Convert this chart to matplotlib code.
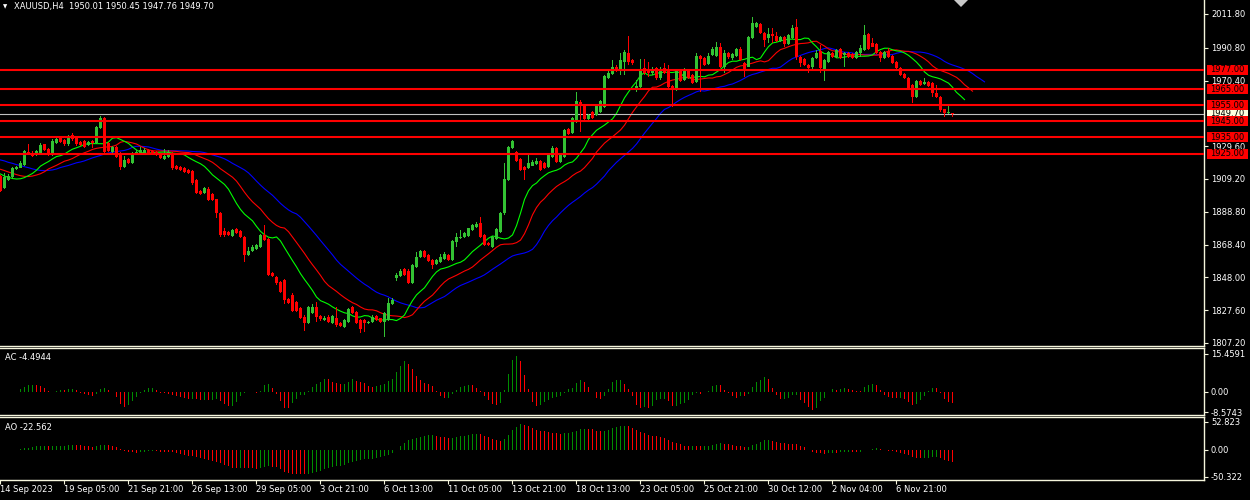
import numpy as np
import pandas as pd
import matplotlib
matplotlib.use("Agg")
import matplotlib.pyplot as plt
from matplotlib.colors import to_rgba_array
from matplotlib.patches import Rectangle, Polygon
from matplotlib.transforms import blended_transform_factory

# XAUUSD H4 candles (open, high, low, close)
opens = [
    1911.0, 1903.4, 1908.6, 1910.2, 1915.4, 1916.2, 1917.9, 1926.2, 1925.5, 1924.1,
    1925.5, 1930.7, 1927.6, 1924.1, 1931.8, 1934.5, 1933.4, 1930.7, 1936.5, 1935.5,
    1932.4, 1933.0, 1930.3, 1933.0, 1931.4, 1940.7, 1946.9, 1931.8, 1926.2, 1929.3,
    1925.1, 1916.8, 1921.4, 1919.3, 1924.7, 1925.5, 1925.1, 1927.2, 1926.8, 1926.2,
    1924.5, 1921.4, 1923.1, 1925.5, 1917.3, 1916.4, 1915.8, 1914.8, 1914.4, 1908.5,
    1901.9, 1900.3, 1903.2, 1899.8, 1896.5, 1888.2, 1877.0, 1876.4, 1873.9, 1877.9,
    1877.0, 1873.3, 1861.9, 1864.6, 1865.4, 1867.1, 1874.3, 1871.6, 1850.9, 1848.0,
    1845.3, 1846.4, 1834.5, 1837.0, 1832.9, 1828.7, 1823.6, 1819.4, 1826.0, 1829.4,
    1824.0, 1821.5, 1823.6, 1819.8, 1822.5, 1819.4, 1817.3, 1820.4, 1829.4, 1826.7,
    1821.5, 1821.5, 1819.4, 1820.4, 1824.0, 1822.5, 1820.4, 1821.5, 1831.4, 1847.4,
    1848.8, 1853.0, 1852.2, 1844.7, 1854.6, 1860.9, 1864.6, 1861.9, 1858.8, 1856.3,
    1857.8, 1859.2, 1861.9, 1858.8, 1870.2, 1872.3, 1872.9, 1873.7, 1877.5, 1879.5,
    1881.6, 1874.3, 1869.6, 1867.1, 1871.7, 1876.4, 1887.8, 1908.6, 1928.3, 1926.2,
    1921.4, 1916.8, 1915.8, 1917.5, 1918.5, 1920.6, 1918.9, 1916.8, 1923.1, 1928.3,
    1920.0, 1923.1, 1940.1, 1937.6, 1944.8, 1957.3, 1954.6, 1946.5, 1951.1, 1949.0,
    1951.0, 1954.2, 1972.0, 1974.5, 1979.1, 1977.0, 1982.2, 1987.8, 1983.2, 1965.0,
    1966.6, 1978.0, 1977.4, 1974.9, 1978.0, 1971.8, 1978.0, 1976.6, 1967.0, 1965.0,
    1976.6, 1970.8, 1976.6, 1973.9, 1969.7, 1985.7, 1984.2, 1980.7, 1986.3, 1985.7,
    1991.5, 1979.1, 1987.8, 1984.2, 1985.7, 1989.8, 1981.5, 1979.1, 1996.7, 2003.5,
    2005.6, 2000.2, 1996.7, 1999.4, 1998.1, 1995.2, 1997.3, 1993.2, 1996.7, 2003.5,
    1984.9, 1983.6, 1980.1, 1979.1, 1984.2, 1989.0, 1977.4, 1982.2, 1987.3, 1985.3,
    1989.8, 1986.3, 1987.3, 1986.9, 1984.2, 1987.3, 1989.4, 1999.4, 1994.0, 1993.2,
    1988.4, 1984.2, 1989.0, 1985.7, 1982.2, 1978.0, 1974.5, 1971.8, 1967.7, 1960.4,
    1970.4, 1968.3, 1969.7, 1969.1, 1962.9, 1960.4, 1952.5, 1950.1, 1950.01,
]
highs = [
    1911.7, 1913.1, 1912.0, 1916.5, 1917.5, 1920.3, 1927.5, 1930.7, 1926.5, 1927.5,
    1931.5, 1931.2, 1928.5, 1934.0, 1934.5, 1935.1, 1934.0, 1936.5, 1937.6, 1936.0,
    1933.0, 1933.6, 1932.6, 1933.4, 1942.2, 1948.3, 1947.5, 1932.4, 1930.0, 1930.0,
    1925.8, 1923.5, 1922.0, 1925.8, 1927.0, 1928.9, 1928.2, 1927.8, 1927.4, 1926.8,
    1925.0, 1927.6, 1927.0, 1926.2, 1918.0, 1917.0, 1916.5, 1915.4, 1915.0, 1909.0,
    1902.5, 1904.0, 1904.0, 1900.5, 1897.0, 1888.8, 1878.9, 1877.0, 1878.0, 1878.5,
    1877.5, 1874.0, 1867.1, 1868.0, 1869.0, 1875.0, 1880.6, 1872.3, 1851.5, 1849.0,
    1846.0, 1847.0, 1835.0, 1838.0, 1833.5, 1829.5, 1824.3, 1830.0, 1831.2, 1832.9,
    1824.8, 1824.0, 1824.5, 1824.6, 1829.8, 1820.0, 1822.2, 1828.8, 1830.0, 1827.3,
    1822.2, 1822.2, 1821.0, 1824.3, 1824.6, 1823.0, 1826.5, 1835.0, 1835.0, 1850.5,
    1853.0, 1853.6, 1853.0, 1856.3, 1864.0, 1865.2, 1865.2, 1862.5, 1859.4, 1859.5,
    1862.5, 1863.6, 1862.5, 1871.5, 1875.8, 1877.5, 1876.0, 1879.0, 1881.2, 1882.6,
    1885.7, 1875.0, 1870.2, 1873.5, 1878.5, 1888.4, 1919.3, 1930.0, 1933.6, 1926.8,
    1922.0, 1917.5, 1924.7, 1921.0, 1922.0, 1921.2, 1919.5, 1924.7, 1929.5, 1929.3,
    1925.3, 1940.3, 1940.7, 1947.5, 1963.5, 1958.0, 1955.2, 1949.6, 1951.7, 1956.0,
    1958.3, 1974.0, 1977.4, 1983.2, 1980.0, 1987.3, 1989.4, 1998.1, 1984.0, 1970.8,
    1983.6, 1983.6, 1982.2, 1979.1, 1979.0, 1979.1, 1981.1, 1980.1, 1967.5, 1977.5,
    1977.3, 1978.0, 1977.2, 1974.5, 1987.3, 1986.5, 1985.0, 1987.8, 1991.5, 1994.6,
    1993.6, 1989.4, 1988.4, 1987.8, 1990.5, 1991.1, 1982.0, 1998.0, 2010.2, 2007.0,
    2006.2, 2000.8, 2002.9, 2002.9, 2000.8, 1998.3, 1997.9, 1999.4, 2005.0, 2008.5,
    1985.5, 1984.2, 1980.7, 1985.0, 1989.4, 1992.5, 1984.0, 1989.0, 1988.0, 1990.0,
    1990.4, 1988.0, 1988.0, 1987.5, 1989.0, 1992.5, 2005.0, 2000.2, 1996.7, 1993.8,
    1989.0, 1989.0, 1990.5, 1986.3, 1982.8, 1978.6, 1975.0, 1972.4, 1968.3, 1971.0,
    1970.8, 1971.8, 1970.3, 1969.7, 1967.7, 1961.0, 1953.0, 1955.2, 1950.45,
]
lows = [
    1901.3, 1902.7, 1908.0, 1909.5, 1915.0, 1915.8, 1917.5, 1924.1, 1922.8, 1923.5,
    1925.0, 1926.8, 1923.2, 1923.5, 1931.0, 1931.8, 1930.0, 1930.0, 1933.0, 1930.0,
    1929.8, 1928.5, 1929.8, 1928.2, 1930.8, 1940.0, 1925.1, 1926.0, 1925.5, 1922.5,
    1914.8, 1915.8, 1918.6, 1918.8, 1924.0, 1925.0, 1924.5, 1925.0, 1925.0, 1923.5,
    1921.4, 1920.9, 1922.5, 1915.0, 1914.5, 1914.0, 1913.0, 1912.4, 1905.4, 1900.0,
    1899.0, 1899.6, 1895.5, 1895.5, 1884.7, 1872.9, 1873.3, 1873.7, 1873.3, 1875.2,
    1872.3, 1857.8, 1861.3, 1864.0, 1864.8, 1866.5, 1870.6, 1849.0, 1848.0, 1843.5,
    1838.5, 1831.4, 1831.5, 1826.5, 1826.5, 1821.8, 1814.8, 1818.8, 1825.5, 1820.4,
    1821.0, 1820.9, 1819.8, 1819.0, 1817.3, 1817.0, 1816.8, 1819.8, 1825.0, 1819.0,
    1813.2, 1814.2, 1818.8, 1819.8, 1820.9, 1819.8, 1810.7, 1820.9, 1830.8, 1846.0,
    1848.0, 1849.0, 1844.0, 1844.0, 1854.0, 1860.3, 1860.0, 1857.8, 1853.0, 1855.7,
    1857.0, 1858.6, 1858.2, 1858.2, 1867.1, 1871.6, 1872.3, 1873.0, 1877.0, 1878.9,
    1872.7, 1867.5, 1867.5, 1866.5, 1871.0, 1875.8, 1887.0, 1908.0, 1927.7, 1919.8,
    1914.0, 1908.6, 1915.2, 1917.0, 1918.0, 1914.2, 1915.2, 1916.2, 1922.5, 1919.3,
    1919.4, 1922.5, 1936.6, 1937.0, 1944.2, 1938.6, 1945.9, 1945.9, 1946.3, 1948.4,
    1950.4, 1953.5, 1971.5, 1974.0, 1976.0, 1973.9, 1973.9, 1980.1, 1980.0, 1963.5,
    1965.6, 1973.9, 1972.8, 1973.9, 1971.0, 1971.0, 1974.3, 1965.6, 1954.2, 1964.0,
    1969.8, 1970.0, 1971.4, 1968.5, 1969.0, 1963.5, 1979.5, 1980.0, 1985.7, 1985.0,
    1978.0, 1974.9, 1984.0, 1983.2, 1985.0, 1982.5, 1972.8, 1978.6, 1996.0, 2003.0,
    1999.6, 1991.5, 1993.6, 1993.6, 1994.6, 1994.6, 1991.5, 1992.6, 1996.0, 1983.2,
    1979.1, 1979.5, 1974.9, 1977.0, 1983.6, 1974.9, 1970.4, 1981.5, 1984.7, 1984.7,
    1983.6, 1979.1, 1984.7, 1983.6, 1983.6, 1985.3, 1988.8, 1989.2, 1991.0, 1986.7,
    1982.2, 1983.6, 1984.7, 1980.5, 1977.4, 1973.3, 1971.2, 1964.4, 1956.3, 1959.8,
    1967.1, 1967.7, 1966.4, 1960.0, 1959.8, 1951.1, 1947.5, 1949.5, 1947.76,
]
closes = [
    1901.9, 1910.2, 1911.0, 1915.8, 1916.8, 1918.9, 1926.8, 1925.1, 1923.5, 1926.8,
    1930.3, 1927.2, 1924.1, 1933.0, 1933.8, 1932.4, 1930.7, 1935.9, 1933.8, 1930.7,
    1930.3, 1929.3, 1932.0, 1931.4, 1941.7, 1946.9, 1926.2, 1926.8, 1929.3, 1923.1,
    1916.8, 1921.0, 1919.3, 1925.1, 1926.2, 1927.2, 1927.2, 1925.5, 1925.5, 1924.1,
    1922.0, 1923.5, 1926.2, 1915.8, 1915.2, 1914.8, 1913.7, 1913.1, 1906.9, 1900.7,
    1899.8, 1903.4, 1896.1, 1896.1, 1887.8, 1874.3, 1874.3, 1874.3, 1877.4, 1875.8,
    1872.9, 1861.9, 1864.6, 1867.1, 1868.1, 1874.3, 1871.2, 1849.5, 1848.8, 1844.3,
    1839.1, 1833.9, 1832.3, 1827.3, 1827.3, 1822.5, 1819.8, 1829.4, 1829.4, 1823.6,
    1821.9, 1822.9, 1820.4, 1824.0, 1818.4, 1817.7, 1821.5, 1828.1, 1825.6, 1819.8,
    1815.7, 1819.8, 1820.4, 1823.6, 1821.5, 1820.4, 1825.6, 1831.9, 1833.9, 1849.5,
    1852.2, 1849.5, 1844.7, 1855.7, 1860.9, 1864.6, 1860.5, 1858.4, 1855.7, 1858.8,
    1860.9, 1862.5, 1858.8, 1870.8, 1872.9, 1872.9, 1875.4, 1878.5, 1880.6, 1881.2,
    1873.3, 1868.1, 1868.1, 1872.9, 1877.9, 1887.8, 1909.0, 1929.3, 1933.0, 1920.4,
    1914.8, 1914.8, 1918.9, 1920.0, 1920.6, 1914.8, 1915.8, 1924.1, 1928.3, 1920.0,
    1924.7, 1939.7, 1937.2, 1946.9, 1957.9, 1954.6, 1946.5, 1949.0, 1946.9, 1955.2,
    1957.5, 1973.2, 1974.9, 1979.1, 1976.6, 1983.2, 1988.4, 1982.2, 1981.5, 1967.0,
    1977.0, 1974.9, 1975.3, 1977.4, 1971.8, 1977.4, 1974.9, 1966.2, 1965.0, 1976.6,
    1970.4, 1977.0, 1972.0, 1969.1, 1985.7, 1983.6, 1980.1, 1985.7, 1989.8, 1991.1,
    1979.1, 1987.8, 1984.9, 1986.9, 1989.8, 1983.0, 1977.0, 1997.7, 2006.4, 2006.4,
    2000.2, 1995.6, 1999.4, 1998.1, 1995.2, 1997.7, 1993.2, 1998.8, 2002.9, 1984.9,
    1981.5, 1980.1, 1978.0, 1984.2, 1987.3, 1978.0, 1983.2, 1988.4, 1985.3, 1989.4,
    1984.2, 1987.3, 1985.3, 1984.2, 1988.4, 1990.5, 1998.8, 1989.8, 1991.5, 1987.3,
    1984.2, 1988.4, 1985.3, 1981.1, 1978.0, 1973.9, 1971.8, 1965.0, 1960.4, 1970.4,
    1967.7, 1969.7, 1967.0, 1962.5, 1960.4, 1952.1, 1950.1, 1951.1, 1949.70,
]

# Alligator values visible at the left edge, before the computed part starts
jaw_head = [1921.0, 1920.4, 1919.5, 1918.9, 1918.1, 1917.5, 1916.8, 1916.2]
teeth_head = [1915.2, 1914.4, 1913.5, 1912.7, 1911.9]
lips_head = [1912.3, 1911.0, 1910.2]

level_lines = [1977.0, 1965.0, 1955.0, 1945.0, 1935.0, 1925.0]
bid_price = 1949.70
price_ticks = [2011.80, 1990.80, 1970.40, 1929.60, 1909.20, 1888.80,
               1868.40, 1848.00, 1827.60, 1807.20]
date_labels = ["14 Sep 2023", "19 Sep 05:00", "21 Sep 21:00", "26 Sep 13:00",
               "29 Sep 05:00", "3 Oct 21:00", "6 Oct 13:00", "11 Oct 05:00",
               "13 Oct 21:00", "18 Oct 13:00", "23 Oct 05:00", "25 Oct 21:00",
               "30 Oct 12:00", "2 Nov 04:00", "6 Nov 21:00"]
ac_ticks = [15.4591, 0.0, -8.5743]
ac_tick_labels = ["15.4591", "0.00", "-8.5743"]
ao_ticks = [52.823, 0.0, -50.322]
ao_tick_labels = ["52.823", "0.00", "-50.322"]

title = "XAUUSD,H4  1950.01 1950.45 1947.76 1949.70"
ac_label = "AC -4.4944"
ao_label = "AO -22.562"

# ---------------------------------------------------------------------------
W, H = 1250, 500
BG = "black"
FG = "white"
FRAME = "#F5F5DC"
UP = "#33C233"
DOWN = "#FF0000"
OSC_UP = "#008C00"
FS = 6
PX = 0.25   # one screen pixel in bar-index units

o = np.array(opens)
h = np.array(highs)
l = np.array(lows)
c = np.array(closes)
n = len(c)
idx = np.arange(n)
median = (h + l) / 2


def smma(values, period, seed):
    out = []
    s = seed
    for v in values:
        s = (s * (period - 1) + v) / period
        out.append(s)
    return np.array(out)


def shifted_line(head, period):
    # head = values already on screen for the first `shift` bars
    vals = smma(median, period, head[-1])
    return np.concatenate([head, vals])


jaw = shifted_line(jaw_head, 13)
teeth = shifted_line(teeth_head, 8)
lips = shifted_line(lips_head, 5)

med_s = pd.Series(median)
ao = (med_s.rolling(5, min_periods=1).mean() - med_s.rolling(34, min_periods=1).mean()).values
ac = ao - pd.Series(ao).rolling(5, min_periods=1).mean().values


def bar_colors(vals):
    d = np.diff(vals, prepend=vals[0])
    return to_rgba_array([OSC_UP if x > 0 else "#FF0000" for x in d])


fig = plt.figure(figsize=(W / 100, H / 100), dpi=100, facecolor=BG)


def px_axes(x0, y0, x1, y1):
    return fig.add_axes([x0 / W, 1 - y1 / H, (x1 - x0) / W, (y1 - y0) / H])


ax = px_axes(0, 0, 1204, 346)
ax_ac = px_axes(0, 348, 1204, 415)
ax_ao = px_axes(0, 417, 1204, 480)

for a in (ax, ax_ac, ax_ao):
    a.set_facecolor(BG)
    a.set_xlim(-0.125, 300.875)
    a.yaxis.tick_right()
    a.tick_params(axis="y", colors=FG, labelsize=FS, length=3, width=0.8,
                  direction="out", pad=2)
    a.tick_params(axis="y", color=FRAME)
    for side, sp in a.spines.items():
        sp.set_color(FRAME)
        sp.set_linewidth(1.0)
    a.spines["left"].set_visible(False)
ax.spines["top"].set_visible(False)

# --- main price window ---
ax.set_ylim(1805.3, 2020.5)
up = c >= o
col = to_rgba_array([UP if u else DOWN for u in up])
body_lo = np.minimum(o, c)
body_h = np.maximum(np.abs(c - o), 0.6)
ax.bar(idx, h - l, bottom=l, width=PX, color=col, linewidth=0, zorder=3)
ax.bar(idx, body_h, bottom=body_lo, width=3 * PX, color=col, linewidth=0, zorder=3)

ax.plot(np.arange(len(jaw)), jaw, color="#0000FF", lw=0.8, zorder=2)
ax.plot(np.arange(len(teeth)), teeth, color="#FF0000", lw=0.8, zorder=2)
ax.plot(np.arange(len(lips)), lips, color="#00FF00", lw=0.8, zorder=2)

ax.axhline(bid_price, color="#C0C0C0", lw=0.8, zorder=2)
for lv in level_lines:
    ax.axhline(lv, color="#FF0000", lw=1.5, zorder=4)

ax.set_xticks([])
ax.set_yticks(price_ticks)
ax.set_yticklabels([f"{v:.2f}" for v in price_ticks])

# price boxes on the scale
tr = blended_transform_factory(ax.transAxes, ax.transData)
box_w = 41 / 1204
box_h = 10 / 1.608


def price_box(value, fc, zo):
    ax.add_patch(Rectangle((1 + 3 / 1204, value - box_h / 2), box_w, box_h,
                           transform=tr, facecolor=fc, edgecolor="none",
                           clip_on=False, zorder=zo))
    ax.text(1 + 3 / 1204 + box_w / 2, value, f"{value:.2f}", transform=tr,
            ha="center", va="center", fontsize=FS, color="black",
            clip_on=False, zorder=zo + 0.5)


price_box(bid_price, "#FFFFE0", 10)
for k, lv in enumerate(level_lines):
    price_box(lv, "#FF0000", 11 + k)

# --- AC window ---
ax_ac.set_ylim(-9.6, 17.8)
ax_ac.bar(idx, ac, width=PX, color=bar_colors(ac), linewidth=0)
ax_ac.set_xticks([])
ax_ac.set_yticks(ac_ticks)
ax_ac.set_yticklabels(ac_tick_labels)

# --- AO window ---
ax_ao.set_ylim(-56.8, 61.8)
ax_ao.bar(idx, ao, width=PX, color=bar_colors(ao), linewidth=0)
ax_ao.set_yticks(ao_ticks)
ax_ao.set_yticklabels(ao_tick_labels)
ax_ao.set_xticks(np.arange(len(date_labels)) * 16 - 0.125)
ax_ao.set_xticklabels(date_labels)
ax_ao.tick_params(axis="x", colors=FRAME, labelcolor=FG, labelsize=FS,
                  length=3, width=0.8, pad=0.5)
for lbl in ax_ao.get_xticklabels():
    lbl.set_ha("left")

# --- texts ---
fig.text(3 / W, 1 - 7 / H, "\u25bc", fontsize=4, color=FG, va="center")
fig.text(14 / W, 1 - 7 / H, title, fontsize=FS, color=FG, va="center")
fig.text(5 / W, 1 - 357 / H, ac_label, fontsize=FS, color=FG, va="center")
fig.text(5 / W, 1 - 427 / H, ao_label, fontsize=FS, color=FG, va="center")

# chart shift marker
fig.patches.append(Polygon([(954 / W, 1.0), (968 / W, 1.0), (961 / W, 1 - 7 / H)],
                           closed=True, transform=fig.transFigure,
                           facecolor="#C8C8C8", edgecolor="none"))

fig.savefig("out.png", dpi=100, facecolor=BG)
